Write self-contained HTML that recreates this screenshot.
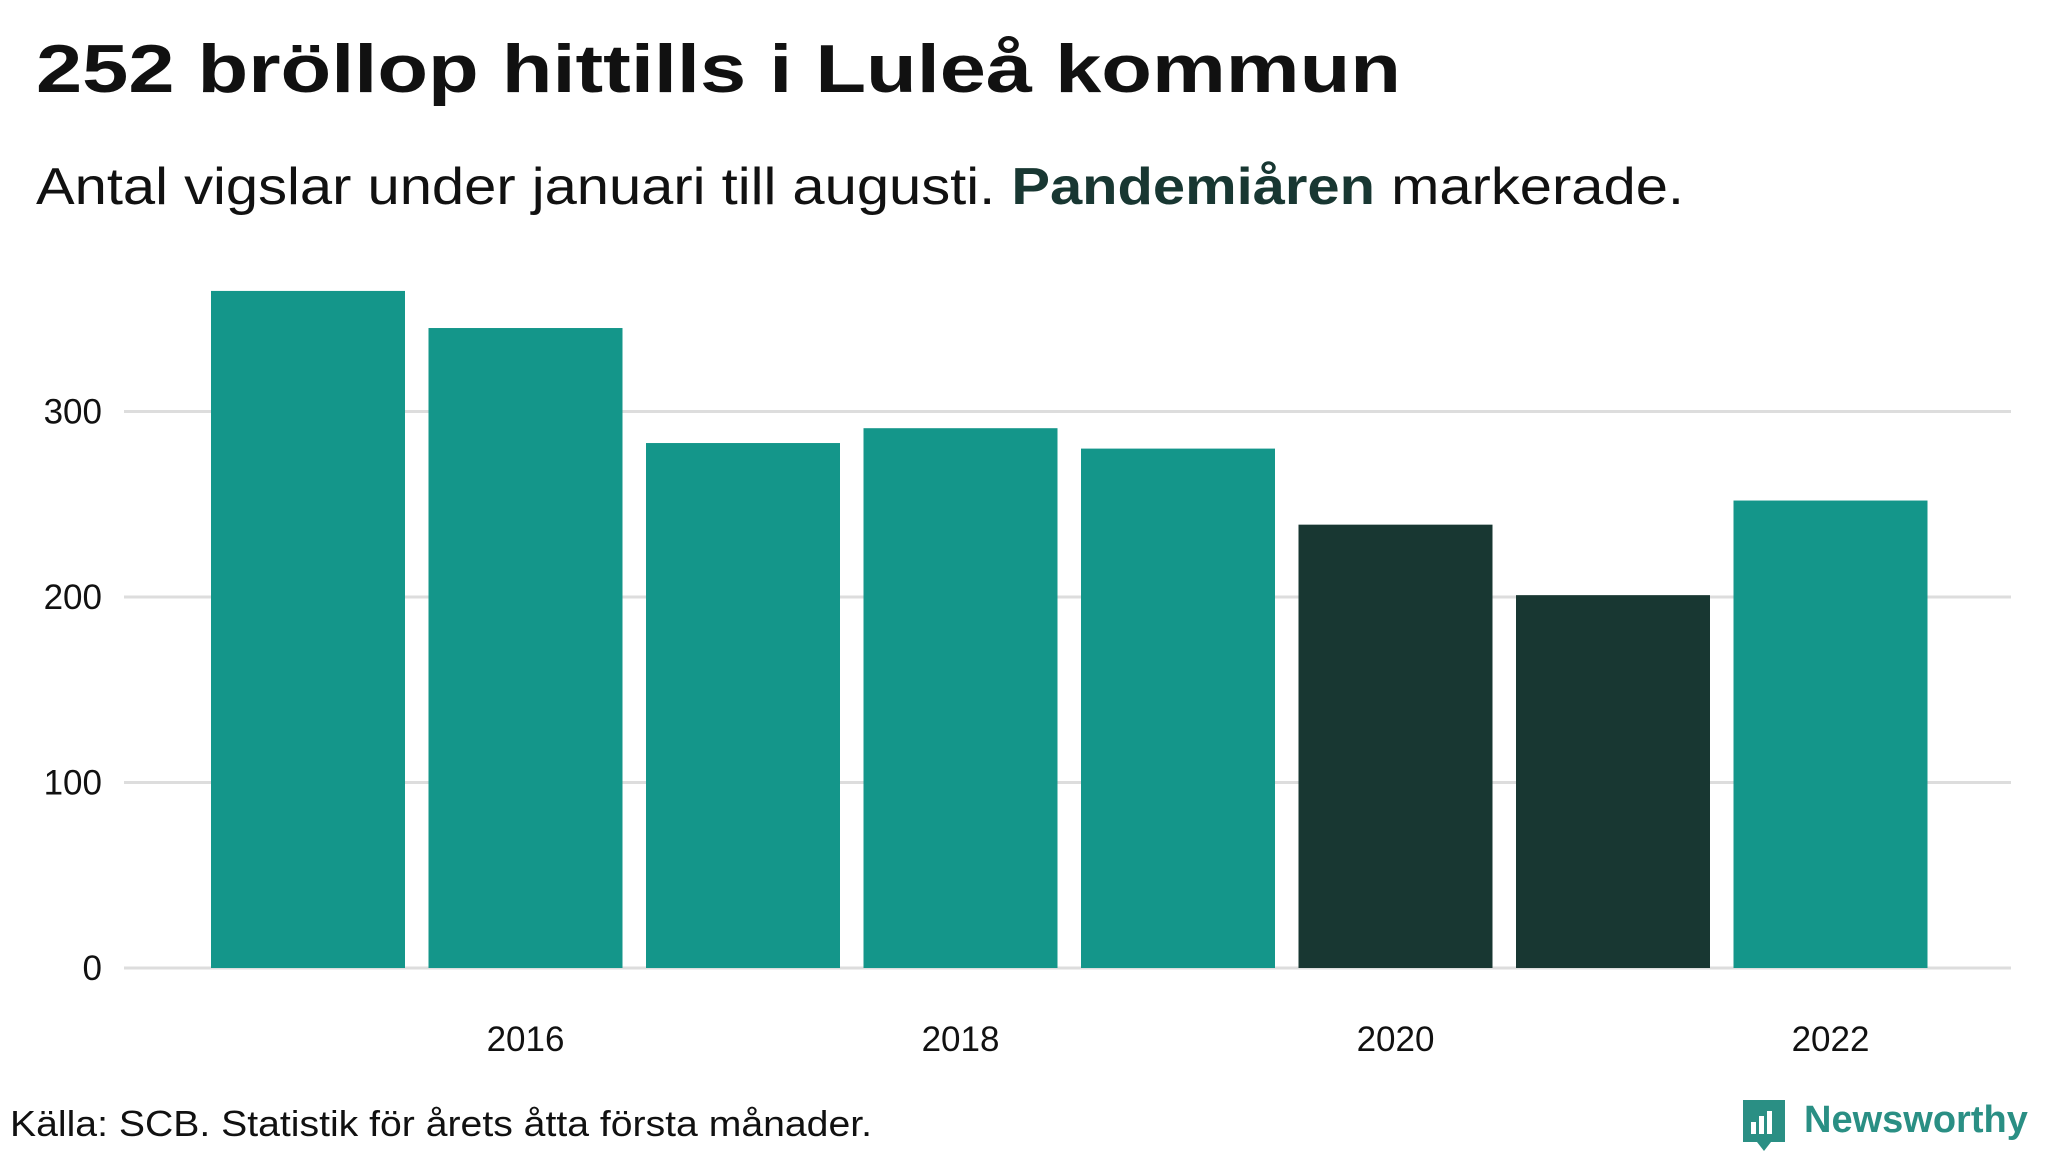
<!DOCTYPE html>
<html><head><meta charset="utf-8"><style>
body{margin:0;background:#fff;width:2048px;height:1152px;overflow:hidden;font-family:"Liberation Sans",sans-serif}
svg{display:block}
</style></head><body>
<svg id="c" width="2048" height="1152">
<text x="36" y="92" font-size="68" font-weight="bold" fill="#111" textLength="1365" lengthAdjust="spacingAndGlyphs">252 bröllop hittills i Luleå kommun</text>
<text x="36" y="204" font-size="52" fill="#111" textLength="1648" lengthAdjust="spacingAndGlyphs">Antal vigslar under januari till augusti. <tspan font-weight="bold" fill="#183732">Pandemiåren</tspan> markerade.</text>
<g id="grid"></g><g id="bars"></g><g id="xl"></g>
<text x="10" y="1136" font-size="36" fill="#111" textLength="862" lengthAdjust="spacingAndGlyphs">Källa: SCB. Statistik för årets åtta första månader.</text>
<g>
<path d="M1743 1100 h42 v42 h-14 l-7 9 l-7 -9 h-14 z" fill="#2a8f84"/>
<rect x="1751" y="1122" width="5" height="12" fill="#fff"/><rect x="1759" y="1116" width="5" height="18" fill="#fff"/><rect x="1767" y="1111" width="5" height="23" fill="#fff"/>
<text x="1804" y="1132" font-size="38" font-weight="bold" fill="#2a8f84">Newsworthy</text>
</g>
</svg>
<script>
const years=[2015,2016,2017,2018,2019,2020,2021,2022];
const values=[365,345,283,291,280,239,201,252];
const pandemic=[false,false,false,false,false,true,true,false];
const yTicks=[0,100,200,300];
const xTickYears=[2016,2018,2020,2022];
const NS="http://www.w3.org/2000/svg";
const y0=968,pxPer=1.855;
const y=v=>y0-v*pxPer;
const pitch=217.5,bw=194,x0=211;
const xc=i=>x0+i*pitch+bw/2;
const grid=document.getElementById('grid'),bars=document.getElementById('bars'),xl=document.getElementById('xl');
function mk(t,a){const e=document.createElementNS(NS,t);for(const k in a)e.setAttribute(k,a[k]);return e;}
yTicks.forEach(v=>{
 const l=mk('line',{x1:124,x2:2011,y1:y(v),y2:y(v),stroke:'#ddd','stroke-width':3});
 
 
 grid.appendChild(l);
 const t=mk('text',{x:102,y:y(v)+12,'font-size':35,'text-anchor':'end',fill:'#111'});
 t.textContent=v;
 
 
 grid.appendChild(t);
});
years.forEach((yr,i)=>{
 const r=mk('rect',{x:xc(i)-bw/2,y:y(values[i]),width:bw,height:y0-y(values[i]),fill:pandemic[i]?'#183732':'#14968a'});
 
 
 bars.appendChild(r);
});
xTickYears.forEach(yr=>{
 const i=years.indexOf(yr);
 const t=mk('text',{x:xc(i),y:1051,'font-size':35,'text-anchor':'middle',fill:'#111'});
 t.textContent=yr;
 
 
 xl.appendChild(t);
});
</script>
</body></html>
